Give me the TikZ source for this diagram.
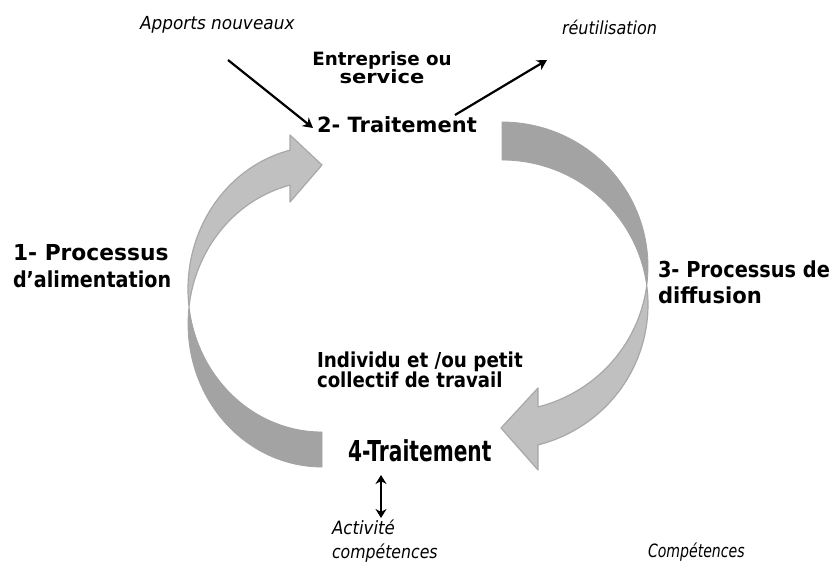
\documentclass[tikz,border=0pt]{standalone}
\usepackage{fontspec}
\setmainfont{DejaVu Sans}
\usepackage{graphicx}
\usetikzlibrary{arrows.meta}
\definecolor{bandlight}{RGB}{192,192,192}
\definecolor{banddark}{RGB}{163,163,163}
\definecolor{bandedge}{RGB}{168,168,168}
% horizontal scaling of one line of text
\newcommand\hsc[2]{\scalebox{#1}[1]{#2}}
\begin{document}
\begin{tikzpicture}[x=1pt,y=-1pt,
  lightband/.style={fill=bandlight, draw=bandedge, line width=1.2pt, line join=round},
  darkband/.style={fill=banddark, draw=banddark, line width=0.8pt, line join=round},
  flow/.style={line width=2.2pt, -{Stealth[length=10pt,width=11pt]}},
  both/.style={line width=2.2pt, {Stealth[length=9pt,width=11pt]}-{Stealth[length=9pt,width=11pt]}},
  txt/.style={inner sep=0pt, outer sep=0pt},
  btxt/.style={txt, font=\bfseries},
  itxt/.style={txt, font=\itshape}]
\useasboundingbox (0,0) rectangle (835,572);

% ---- left cycle arrow (feeding process) ----
\draw[darkband]
  plot[domain=90:187.03, samples=50] ({322+134*cos(\x)},{324+143*sin(\x)})
  -- plot[domain=172.97:90, samples=50] ({322+134*cos(\x)},{289+143*sin(\x)})
  -- cycle;
\draw[lightband]
  plot[domain=172.97:256.2, samples=50] ({322+134*cos(\x)},{289+143*sin(\x)})
  -- (290,135) -- (322,165) -- (290,202) -- (290,185.1)
  -- plot[domain=256.2:187.03, samples=50] ({322+134*cos(\x)},{324+143*sin(\x)})
  -- cycle;

% ---- right cycle arrow (diffusion process) ----
\draw[darkband]
  plot[domain=-90:7.55, samples=50] ({502+146*cos(\x)},{266.7+144.7*sin(\x)})
  -- plot[domain=-7.55:-90, samples=50] ({502+146*cos(\x)},{304.7+144.7*sin(\x)})
  -- cycle;
\draw[lightband]
  plot[domain=-7.55:75.72, samples=50] ({502+146*cos(\x)},{304.7+144.7*sin(\x)})
  -- (538,470) -- (501,428) -- (538,388) -- (538,406.9)
  -- plot[domain=75.72:7.55, samples=50] ({502+146*cos(\x)},{266.7+144.7*sin(\x)})
  -- cycle;

% ---- labels ----
\node[itxt, anchor=base west, font=\itshape\fontsize{18}{18}\selectfont] (apports) at (140,30)
  {\hsc{0.94}{Apports nouveaux}};
\node[itxt, anchor=base west, font=\itshape\fontsize{18}{18}\selectfont] (reuse) at (562,35)
  {\hsc{0.89}{réutilisation}};
\node[btxt, anchor=north, align=center, font=\bfseries\fontsize{18.3}{18}\selectfont] (firm) at (382,51.7)
  {\hsc{1.0}{Entreprise ou}\\\hsc{1.15}{service}};
\node[btxt, anchor=base west, font=\bfseries\fontsize{21}{21}\selectfont] (t2) at (317,133)
  {\hsc{1.0}{2- Traitement}};
\node[btxt, anchor=north west, align=left, font=\bfseries\fontsize{22}{27}\selectfont] (p1) at (13,244)
  {\hsc{0.99}{1- Processus}\\\hsc{0.87}{d’alimentation}};
\node[btxt, anchor=north west, align=left, font=\bfseries\fontsize{22}{26}\selectfont] (p3) at (658,261)
  {\hsc{0.88}{3- Processus de}\\\hsc{0.96}{diffusion}};
\node[btxt, anchor=north west, align=left, font=\bfseries\fontsize{20.6}{20}\selectfont] (team) at (317,352.3)
  {\hsc{0.89}{Individu et /ou petit}\\\hsc{0.88}{collectif de travail}};
\node[btxt, anchor=base west, font=\bfseries\fontsize{28.8}{28.8}\selectfont] (t4) at (348,461)
  {\hsc{0.70}{4-Traitement}};
\node[itxt, anchor=north west, align=left, font=\itshape\fontsize{18.3}{24}\selectfont] (act) at (332,519.7)
  {\hsc{0.91}{Activité}\\\hsc{0.86}{compétences}};
\node[itxt, anchor=base west, font=\itshape\fontsize{18.3}{18.3}\selectfont] (comp) at (648,557)
  {\hsc{0.77}{Compétences}};

% ---- connectors ----
\coordinate (inS) at (228,60);
\coordinate (inE) at (313,128);
\coordinate (outS) at (455,115);
\coordinate (outE) at (547,60);
\coordinate (dTop) at (381,475);
\coordinate (dBot) at (381,518);
\draw[flow] (inS) -- (inE);
\draw[flow] (outS) -- (outE);
\draw[both] (dTop) -- (dBot);
\end{tikzpicture}
\end{document}
